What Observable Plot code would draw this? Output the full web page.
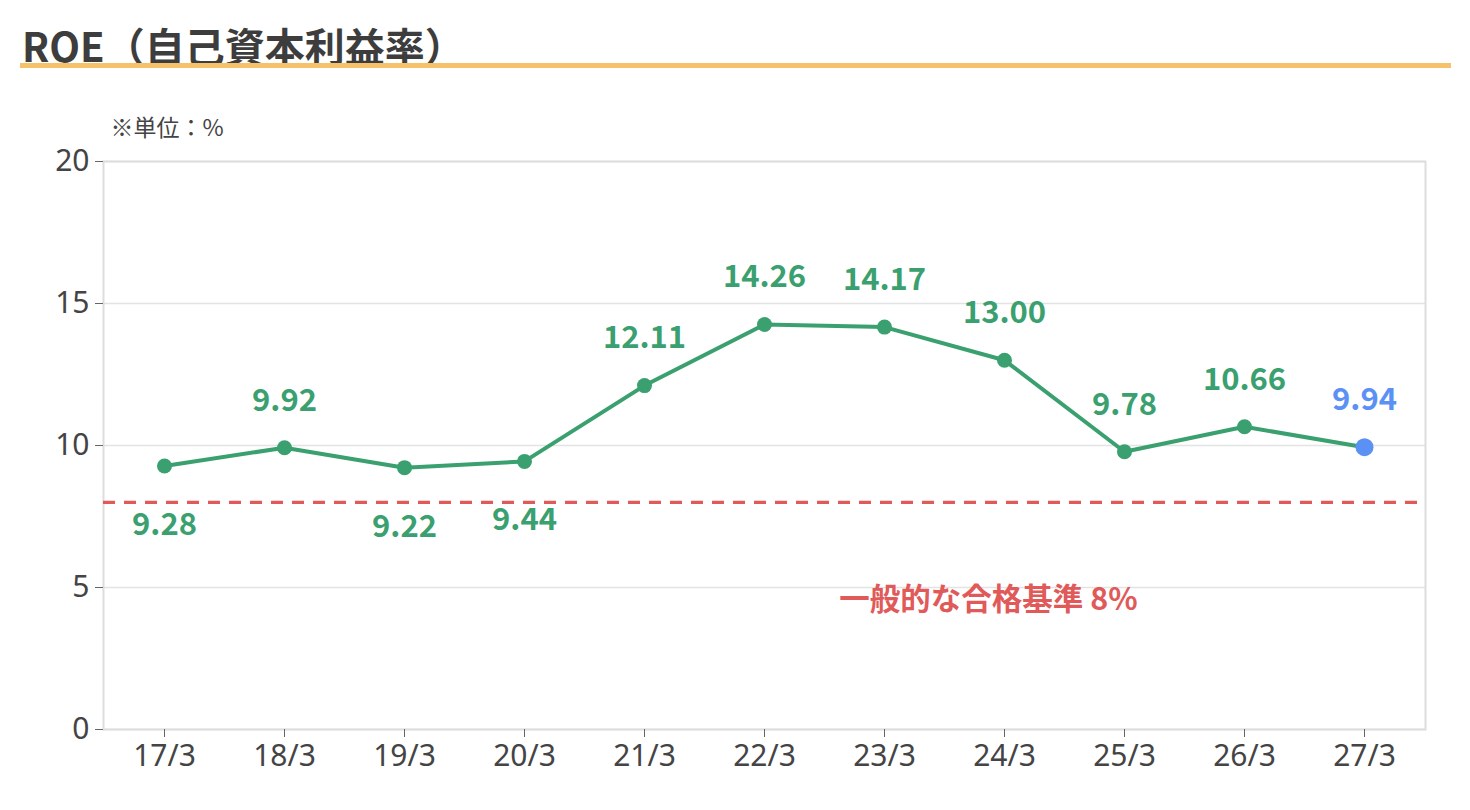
<!DOCTYPE html>
<html><head><meta charset="utf-8">
<script src="https://cdn.jsdelivr.net/npm/d3@7"></script>
<script src="https://cdn.jsdelivr.net/npm/@observablehq/plot@0.6"></script>
<style>
body{margin:0;background:#fff;font-family:"Noto Sans CJK JP",sans-serif;}
#wrap{position:relative;width:1470px;height:810px;overflow:hidden;}
#title{position:absolute;left:22px;top:25px;font-size:40px;font-weight:700;color:#3d3d3d;line-height:1;white-space:nowrap;}
#rule{position:absolute;left:20px;top:63px;width:1431px;height:5px;background:#f5c26b;}
#chart{position:absolute;left:0;top:80px;}
</style></head><body>
<div id="wrap"><div id="title">ROE（自己資本利益率）</div><div id="rule"></div><div id="chart"></div></div>
<script>
const periods = ["17/3","18/3","19/3","20/3","21/3","22/3","23/3","24/3","25/3","26/3","27/3"];
const roe = [9.28, 9.92, 9.22, 9.44, 12.11, 14.26, 14.17, 13.00, 9.78, 10.66, 9.94];
const forecastPeriods = ["27/3"];
const labelBelow = ["17/3","19/3","20/3"];
const yTicks = [0, 5, 10, 15, 20];
const benchmark = 8;
const benchmarkLabel = "一般的な合格基準 8%";
const benchmarkAnchor = "24/3";
const unitLabel = "※単位：%";

const green = "#3ba06f", blue = "#5b91f5", red = "#e05a5a";
const data = periods.map((p, i) => ({period: p, value: roe[i], forecast: forecastPeriods.includes(p), below: labelBelow.includes(p)}));
const actual = data.filter(d => !d.forecast);
const forecast = data.filter(d => d.forecast);
const tickFont = '"Noto Sans", "Noto Sans CJK JP", sans-serif';

const chart = Plot.plot({
  width: 1470, height: 730,
  marginTop: 81, marginBottom: 81, marginLeft: 103, marginRight: 45,
  style: {fontFamily: '"Noto Sans CJK JP", sans-serif', color: "#444", background: "white"},
  x: {type: "point", domain: periods, padding: 0.5, label: null},
  y: {domain: [0, 20], label: null},
  marks: [
    Plot.gridY(yTicks, {stroke: "#e3e3e3", strokeOpacity: 1, strokeWidth: 1.5}),
    Plot.frame({stroke: "#dddddd", strokeWidth: 2}),
    Plot.axisY(yTicks, {tickSize: 8, tickPadding: 6, fontSize: 30, fontFamily: tickFont, stroke: "#666", fill: "#444"}),
    Plot.axisX({tickSize: 8, tickPadding: 7, fontSize: 30, fontFamily: tickFont, stroke: "#666", fill: "#444"}),
    Plot.ruleY([benchmark], {stroke: red, strokeWidth: 3.2, strokeDasharray: "12,9"}),
    Plot.line(data, {x: "period", y: "value", stroke: green, strokeWidth: 4}),
    Plot.dot(actual, {x: "period", y: "value", r: 7.5, fill: green}),
    Plot.dot(forecast, {x: "period", y: "value", r: 9, fill: blue}),
    Plot.text(data.filter(d => !d.below), {x: "period", y: "value", text: d => d.value.toFixed(2), dy: -47, fontSize: 31, fontWeight: "bold", fill: d => d.forecast ? blue : green}),
    Plot.text(data.filter(d => d.below), {x: "period", y: "value", text: d => d.value.toFixed(2), dy: 59, fontSize: 31, fontWeight: "bold", fill: green}),
    Plot.text([benchmarkLabel], {x: () => benchmarkAnchor, y: () => benchmark, text: d => d, dx: -16, dy: 98, fontSize: 30.5, fontWeight: "bold", fill: red}),
    Plot.text([unitLabel], {frameAnchor: "top-left", text: d => d, dx: 7, dy: -42, textAnchor: "start", fontSize: 23, fill: "#444"})
  ]
});
document.getElementById("chart").appendChild(chart);
</script>
</body></html>
